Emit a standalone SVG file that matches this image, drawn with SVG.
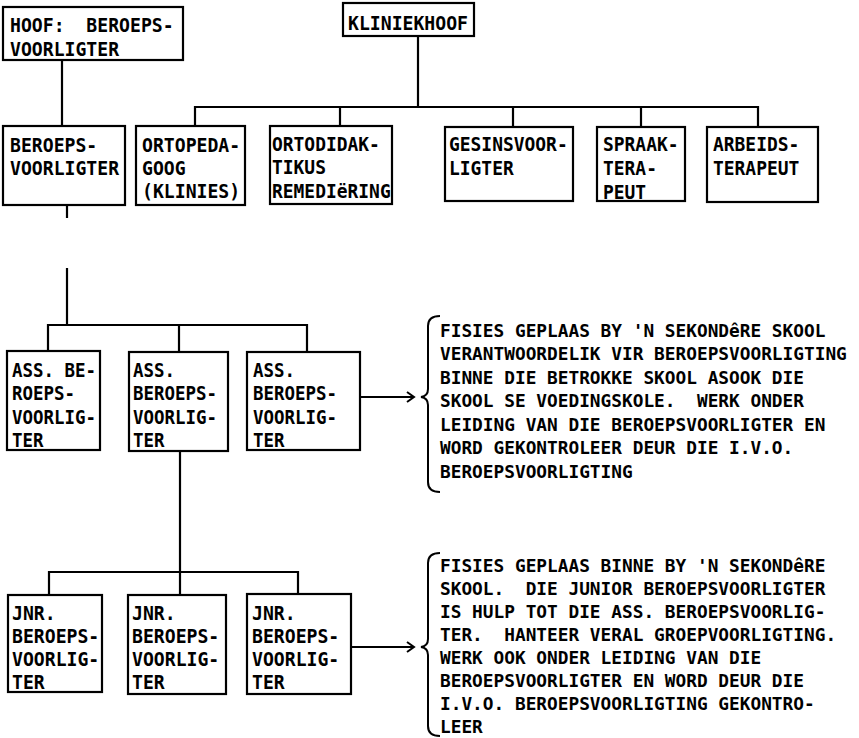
<svg xmlns="http://www.w3.org/2000/svg" width="859" height="738" viewBox="0 0 859 738">
<style>
rect.b{fill:#fff;stroke:#000;stroke-width:2.2}
.c{fill:none;stroke:#000;stroke-width:2.2}
.br{fill:none;stroke:#000;stroke-width:2}
text{font-family:"DejaVu Sans Mono","Liberation Mono",monospace;font-weight:bold;fill:#000;white-space:pre}
.t{font-size:19.5px}
.d{font-size:17.8px}
</style>
<defs>
<marker id="ah" markerWidth="10" markerHeight="12" refX="8" refY="6" orient="auto" markerUnits="userSpaceOnUse">
<path d="M1,1 L8,6 L1,11" fill="none" stroke="#000" stroke-width="2"/>
</marker>
</defs>
<rect width="859" height="738" fill="#fff"/>
<g id="connectors">
<path class="c" d="M62,60 V126"/>
<path class="c" d="M418,36 V107"/>
<path class="c" d="M195,126 V107 H758 V127"/>
<path class="c" d="M340,107 V126"/>
<path class="c" d="M513,107 V127"/>
<path class="c" d="M641,107 V127"/>
<path class="c" d="M67,205 V218"/>
<path class="c" d="M67,268 V325"/>
<path class="c" d="M48,351 V325 H307 V352"/>
<path class="c" d="M179,325 V352"/>
<path class="c" d="M180,451 V594"/>
<path class="c" d="M49,595 V572 H298 V594"/>
<path class="c" d="M360,397 H414" marker-end="url(#ah)"/>
<path class="c" d="M351,647 H414" marker-end="url(#ah)"/>
</g>
<g id="n-hoof">
<rect class="b" x="3" y="7" width="180" height="53"/>
<g transform="translate(10,0) scale(0.93,1)">
<text class="t" x="0" y="32">HOOF:  BEROEPS-</text>
<text class="t" x="0" y="56">VOORLIGTER</text>
</g>
</g>
<g id="n-kliniekhoof">
<rect class="b" x="343" y="3" width="131" height="33"/>
<g transform="translate(348,0) scale(0.93,1)">
<text class="t" x="0" y="30">KLINIEKHOOF</text>
</g>
</g>
<g id="n-beroepsvoorligter">
<rect class="b" x="3" y="126" width="122" height="79"/>
<g transform="translate(10,0) scale(0.93,1)">
<text class="t" x="0" y="152">BEROEPS-</text>
<text class="t" x="0" y="175">VOORLIGTER</text>
</g>
</g>
<g id="n-ortopedagoog">
<rect class="b" x="136" y="126" width="109" height="79"/>
<g transform="translate(142,0) scale(0.93,1)">
<text class="t" x="0" y="152">ORTOPEDA-</text>
<text class="t" x="0" y="175">GOOG</text>
<text class="t" x="0" y="198">(KLINIES)</text>
</g>
</g>
<g id="n-ortodidaktikus">
<rect class="b" x="270" y="126" width="122" height="78"/>
<g transform="translate(272,0) scale(0.92,1)">
<text class="t" x="0" y="151">ORTODIDAK-</text>
<text class="t" x="0" y="174">TIKUS</text>
<text class="t" x="0" y="198">REMEDIëRING</text>
</g>
</g>
<g id="n-gesinsvoorligter">
<rect class="b" x="445" y="127" width="128" height="74"/>
<g transform="translate(449,0) scale(0.92,1)">
<text class="t" x="0" y="151">GESINSVOOR-</text>
<text class="t" x="0" y="175">LIGTER</text>
</g>
</g>
<g id="n-spraakterapeut">
<rect class="b" x="597" y="127" width="88" height="74"/>
<g transform="translate(603,0) scale(0.92,1)">
<text class="t" x="0" y="151">SPRAAK-</text>
<text class="t" x="0" y="175">TERA-</text>
<text class="t" x="0" y="199">PEUT</text>
</g>
</g>
<g id="n-arbeidsterapeut">
<rect class="b" x="707" y="127" width="111" height="75"/>
<g transform="translate(713,0) scale(0.92,1)">
<text class="t" x="0" y="151">ARBEIDS-</text>
<text class="t" x="0" y="175">TERAPEUT</text>
</g>
</g>
<g id="n-ass1">
<rect class="b" x="7" y="351" width="93" height="99"/>
<g transform="translate(12,0) scale(0.895,1)">
<text class="t" x="0" y="377">ASS. BE-</text>
<text class="t" x="0" y="400">ROEPS-</text>
<text class="t" x="0" y="424">VOORLIG-</text>
<text class="t" x="0" y="447">TER</text>
</g>
</g>
<g id="n-ass2">
<rect class="b" x="129" y="352" width="99" height="99"/>
<g transform="translate(133,0) scale(0.895,1)">
<text class="t" x="0" y="377">ASS.</text>
<text class="t" x="0" y="400">BEROEPS-</text>
<text class="t" x="0" y="424">VOORLIG-</text>
<text class="t" x="0" y="447">TER</text>
</g>
</g>
<g id="n-ass3">
<rect class="b" x="247" y="352" width="113" height="98"/>
<g transform="translate(253,0) scale(0.895,1)">
<text class="t" x="0" y="377">ASS.</text>
<text class="t" x="0" y="400">BEROEPS-</text>
<text class="t" x="0" y="424">VOORLIG-</text>
<text class="t" x="0" y="447">TER</text>
</g>
</g>
<g id="n-jnr1">
<rect class="b" x="8" y="595" width="94" height="97"/>
<g transform="translate(12,0) scale(0.93,1)">
<text class="t" x="0" y="620">JNR.</text>
<text class="t" x="0" y="643">BEROEPS-</text>
<text class="t" x="0" y="666">VOORLIG-</text>
<text class="t" x="0" y="689">TER</text>
</g>
</g>
<g id="n-jnr2">
<rect class="b" x="128" y="595" width="98" height="99"/>
<g transform="translate(132,0) scale(0.93,1)">
<text class="t" x="0" y="620">JNR.</text>
<text class="t" x="0" y="643">BEROEPS-</text>
<text class="t" x="0" y="666">VOORLIG-</text>
<text class="t" x="0" y="689">TER</text>
</g>
</g>
<g id="n-jnr3">
<rect class="b" x="247" y="594" width="104" height="100"/>
<g transform="translate(252,0) scale(0.93,1)">
<text class="t" x="0" y="620">JNR.</text>
<text class="t" x="0" y="643">BEROEPS-</text>
<text class="t" x="0" y="666">VOORLIG-</text>
<text class="t" x="0" y="689">TER</text>
</g>
</g>
<g id="n-desc1">
<path class="br" d="M440,316 Q428,316 428,326 V389 Q428,396 421,397 Q428,398 428,405 V482 Q428,492 440,492"/>
<text class="d" x="440" y="337">FISIES GEPLAAS BY 'N SEKONDêRE SKOOL</text>
<text class="d" x="440" y="360">VERANTWOORDELIK VIR BEROEPSVOORLIGTING</text>
<text class="d" x="440" y="384">BINNE DIE BETROKKE SKOOL ASOOK DIE</text>
<text class="d" x="440" y="407">SKOOL SE VOEDINGSKOLE.  WERK ONDER</text>
<text class="d" x="440" y="431">LEIDING VAN DIE BEROEPSVOORLIGTER EN</text>
<text class="d" x="440" y="454">WORD GEKONTROLEER DEUR DIE I.V.O.</text>
<text class="d" x="440" y="478">BEROEPSVOORLIGTING</text>
</g>
<g id="n-desc2">
<path class="br" d="M440,553 Q428,553 428,563 V639 Q428,646 421,647 Q428,648 428,655 V726 Q428,736 440,736"/>
<text class="d" x="440" y="572">FISIES GEPLAAS BINNE BY 'N SEKONDêRE</text>
<text class="d" x="440" y="595">SKOOL.  DIE JUNIOR BEROEPSVOORLIGTER</text>
<text class="d" x="440" y="618">IS HULP TOT DIE ASS. BEROEPSVOORLIG-</text>
<text class="d" x="440" y="641">TER.  HANTEER VERAL GROEPVOORLIGTING.</text>
<text class="d" x="440" y="664">WERK OOK ONDER LEIDING VAN DIE</text>
<text class="d" x="440" y="687">BEROEPSVOORLIGTER EN WORD DEUR DIE</text>
<text class="d" x="440" y="710">I.V.O. BEROEPSVOORLIGTING GEKONTRO-</text>
<text class="d" x="440" y="733">LEER</text>
</g>
</svg>
